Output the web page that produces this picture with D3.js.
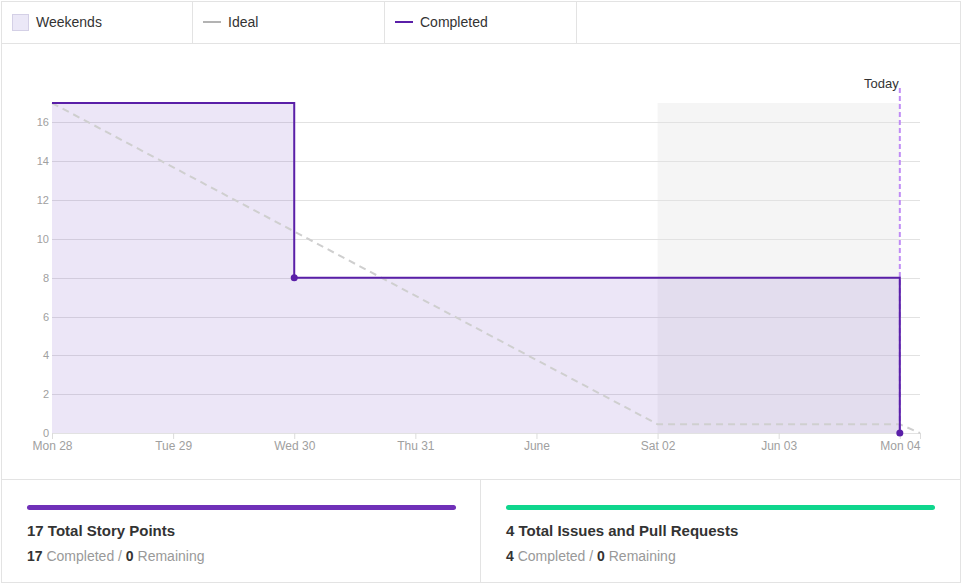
<!DOCTYPE html>
<html><head><meta charset="utf-8">
<script src="https://cdn.jsdelivr.net/npm/d3@7"></script>
<style>
html,body{margin:0;padding:0;background:#fff;}
svg{display:block;font-family:"Liberation Sans",Arial,Helvetica,sans-serif;}
</style></head>
<body><svg id="c" width="962" height="584"></svg>
<script>
const tickDates = ["2018-05-28","2018-05-29","2018-05-30","2018-05-31","2018-06-01","2018-06-02","2018-06-03","2018-06-04"];
const tickLabels = ["Mon 28","Tue 29","Wed 30","Thu 31","June","Sat 02","Jun 03","Mon 04"];
const domainStart = "2018-05-28T00:00";
const domainEnd = "2018-06-04T04:00";
const yTicks = [0,2,4,6,8,10,12,14,16];
const idealDates = ["2018-05-28T00:00","2018-06-02T00:00","2018-06-04T00:00","2018-06-04T04:00"];
const idealValues = [17, 0.45, 0.45, 0];
const completedDates = ["2018-05-28T00:00","2018-05-30T00:00","2018-06-04T00:00"];
const completedValues = [17, 8, 0];
const weekendStart = "2018-06-02T00:00";
const weekendEnd = "2018-06-04T00:00";
const todayDate = "2018-06-04T00:00";
const legendItems = ["Weekends","Ideal","Completed"];
const stats = [
  {total:17, title:"Total Story Points", done:17, remaining:0, color:"#7030b8"},
  {total:4, title:"Total Issues and Pull Requests", done:4, remaining:0, color:"#0fd68d"}
];

const P = d3.timeParse("%Y-%m-%dT%H:%M"), PD = d3.timeParse("%Y-%m-%d");
const svg = d3.select("#c");
const purple = "#5a1fa8";

// frame
svg.append("rect").attr("x",1.5).attr("y",1.5).attr("width",959).attr("height",581)
  .attr("fill","#fff").attr("stroke","#e3e3e3");
svg.append("line").attr("x1",1).attr("x2",961).attr("y1",43.5).attr("y2",43.5).attr("stroke","#e3e3e3");
svg.append("line").attr("x1",1).attr("x2",961).attr("y1",479.5).attr("y2",479.5).attr("stroke","#e3e3e3");
svg.append("line").attr("x1",480.5).attr("x2",480.5).attr("y1",480).attr("y2",583).attr("stroke","#e3e3e3");

// legend
[192,384,576].forEach(x=>svg.append("line").attr("x1",x+0.5).attr("x2",x+0.5).attr("y1",2).attr("y2",43).attr("stroke","#e3e3e3"));
const lg = svg.append("g");
lg.append("rect").attr("x",12.5).attr("y",14.5).attr("width",16).attr("height",16).attr("fill","#ebe8f7").attr("stroke","#d4d0e6");
lg.append("text").attr("x",36).attr("y",27).attr("font-size",14).attr("fill","#333").text(legendItems[0]);
lg.append("line").attr("x1",203).attr("x2",221).attr("y1",22).attr("y2",22).attr("stroke","#b3b3b3").attr("stroke-width",2);
lg.append("text").attr("x",228).attr("y",27).attr("font-size",14).attr("fill","#333").text(legendItems[1]);
lg.append("line").attr("x1",395).attr("x2",413).attr("y1",22).attr("y2",22).attr("stroke",purple).attr("stroke-width",2);
lg.append("text").attr("x",420).attr("y",27).attr("font-size",14).attr("fill","#333").text(legendItems[2]);

// scales
const x = d3.scaleTime().domain([P(domainStart),P(domainEnd)]).range([52,920]);
const y = d3.scaleLinear().domain([0,17]).range([433,103]);

// weekend
svg.append("rect").attr("x",x(P(weekendStart))).attr("y",y(17))
  .attr("width",x(P(weekendEnd))-x(P(weekendStart))).attr("height",y(0)-y(17)).attr("fill","#f5f5f5");

// grid
const grid = svg.append("g");
grid.selectAll("line").data(yTicks).join("line")
  .attr("x1",52).attr("x2",920).attr("y1",d=>Math.round(y(d))+0.5).attr("y2",d=>Math.round(y(d))+0.5)
  .attr("stroke","#e2e2e2");

// completed area
const comp = completedDates.map((d,i)=>({d:P(d),v:completedValues[i]}));
svg.append("path").datum(comp)
  .attr("d",d3.area().curve(d3.curveStepAfter).x(d=>x(d.d)).y0(y(0)).y1(d=>y(d.v)))
  .attr("fill","#6a3fc0").attr("fill-opacity",0.13);

// y labels
svg.append("g").selectAll("text").data(yTicks).join("text")
  .attr("x",49).attr("y",d=>y(d)+4).attr("text-anchor","end").attr("font-size",11).attr("fill","#a0a0a0").text(d=>d);

// x axis
const xa = svg.append("g").attr("transform","translate(0,433)")
  .call(d3.axisBottom(x).tickValues(tickDates.map(PD)).tickFormat((d,i)=>tickLabels[i]).tickSize(6).tickSizeOuter(6));
xa.select(".domain").attr("stroke","none");
xa.selectAll(".tick line").attr("stroke","#dcdcdc");
xa.selectAll(".tick text").attr("fill","#a0a0a0").attr("font-size",12).attr("dy",null).attr("y",17)
  .attr("font-family","Liberation Sans,Arial,sans-serif");
xa.append("line").attr("x1",920.5).attr("x2",920.5).attr("y1",0).attr("y2",6).attr("stroke","#dcdcdc");

// ideal
const ideal = idealDates.map((d,i)=>({d:P(d),v:idealValues[i]}));
svg.append("path").datum(ideal).attr("d",d3.line().x(d=>x(d.d)).y(d=>y(d.v)))
  .attr("fill","none").attr("stroke","#cfcfcf").attr("stroke-width",2).attr("stroke-dasharray","7,5");

// today
const tx = x(P(todayDate));
svg.append("line").attr("x1",tx).attr("x2",tx).attr("y1",88).attr("y2",433)
  .attr("stroke","#c08cf5").attr("stroke-width",2).attr("stroke-dasharray","5,3");
svg.append("text").attr("x",tx-1).attr("y",88).attr("text-anchor","end").attr("font-size",13).attr("fill","#333").text("Today");

// completed line
svg.append("path").datum(comp).attr("d",d3.line().curve(d3.curveStepAfter).x(d=>x(d.d)).y(d=>y(d.v)))
  .attr("fill","none").attr("stroke",purple).attr("stroke-width",2);
svg.selectAll("circle.pt").data(comp.slice(1)).join("circle").attr("class","pt")
  .attr("cx",d=>x(d.d)).attr("cy",d=>y(d.v)).attr("r",3.5).attr("fill",purple);

// stats
stats.forEach((s,i)=>{
  const x0 = i===0 ? 27 : 506;
  const g = svg.append("g");
  g.append("rect").attr("x",x0).attr("y",505).attr("width",429).attr("height",5).attr("rx",2.5).attr("fill",s.color);
  g.append("text").attr("x",x0).attr("y",536).attr("font-size",15).attr("font-weight","bold").attr("fill","#333")
    .text(s.total+" "+s.title);
  const t = g.append("text").attr("x",x0).attr("y",561).attr("font-size",14).attr("fill","#999");
  t.append("tspan").attr("font-weight","bold").attr("fill","#333").text(s.done);
  t.append("tspan").text(" Completed / ");
  t.append("tspan").attr("font-weight","bold").attr("fill","#333").text(s.remaining);
  t.append("tspan").text(" Remaining");
});
</script></body></html>
